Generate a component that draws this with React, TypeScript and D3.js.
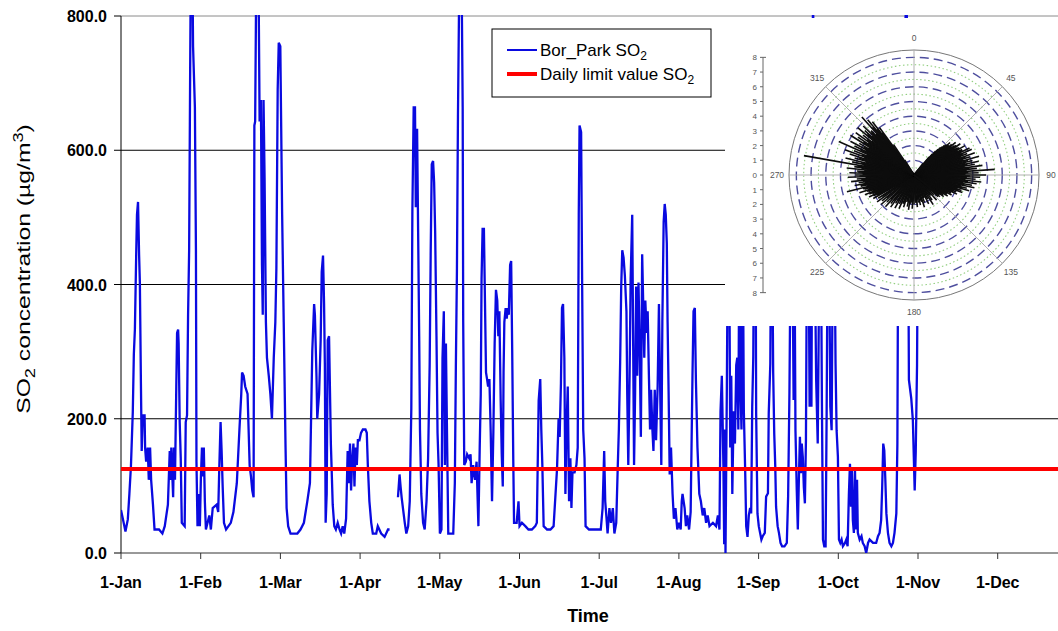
import { useRef, useEffect } from 'react';
import * as d3 from 'd3';

const WIDTH = 1058;
const HEIGHT = 631;
const FONT = '"Liberation Sans", Arial, sans-serif';

const monthLabels = ['1-Jan', '1-Feb', '1-Mar', '1-Apr', '1-May', '1-Jun', '1-Jul', '1-Aug', '1-Sep', '1-Oct', '1-Nov', '1-Dec'];
const yTicks = [0, 200, 400, 600, 800];
const dailyLimit = 125;

// [day of year (1-Jan = 0), SO2 µg/m3]; null = missing data (April gap)
const so2Readings: [number, number | null][] = [
  [0.0, 64], [1.3, 40], [1.7, 32], [2.6, 50], [3.2, 88], [3.8, 130], [4.5, 210], [4.9, 296], [5.3, 333], [5.8, 445],
  [6.1, 504], [6.5, 523], [6.9, 445], [7.2, 403], [7.6, 253], [7.9, 152], [8.3, 205], [9.0, 205], [9.2, 157], [9.6, 136],
  [10.2, 157], [10.6, 109], [11.1, 157], [11.5, 109], [12.2, 72], [12.8, 35], [14.5, 35], [15.8, 29], [16.7, 40], [17.3, 56],
  [17.9, 72], [18.6, 152], [19.0, 109], [19.2, 157], [19.9, 83], [20.2, 157], [20.6, 109], [21.1, 248], [21.4, 328], [21.8, 333],
  [22.0, 312], [22.4, 195], [22.8, 141], [23.2, 45], [24.3, 40], [24.7, 195], [25.2, 205], [25.6, 355], [26.0, 450], [26.4, 723],
  [26.6, 850], [27.3, 850], [27.5, 755], [28.2, 664], [28.6, 450], [28.8, 136], [29.2, 40], [29.6, 88], [30.1, 40], [30.5, 114],
  [30.9, 157], [31.3, 114], [31.6, 157], [32.0, 77], [32.4, 35], [33.7, 56], [34.3, 35], [35.0, 67], [36.5, 72], [37.1, 61],
  [37.5, 125], [38.0, 195], [38.4, 152], [38.8, 99], [39.3, 45], [40.1, 35], [41.9, 45], [42.9, 61], [44.2, 104], [45.2, 184],
  [45.9, 237], [46.2, 269], [46.8, 264], [47.4, 248], [48.3, 237], [48.7, 184], [49.1, 130], [49.6, 114], [50.1, 93], [50.6, 83],
  [50.9, 637], [51.2, 643], [51.6, 850], [52.5, 850], [52.9, 643], [53.4, 675], [53.8, 429], [54.1, 355], [54.4, 675], [54.8, 557],
  [55.3, 344], [55.7, 291], [56.4, 264], [57.0, 237], [57.6, 200], [58.3, 291], [58.9, 344], [59.3, 424], [59.8, 691], [60.2, 760],
  [60.8, 755], [61.5, 504], [62.1, 344], [62.8, 157], [63.2, 67], [63.8, 40], [64.7, 29], [67.3, 29], [68.5, 35], [69.8, 45],
  [71.1, 77], [72.1, 104], [73.0, 301], [73.7, 371], [74.0, 355], [74.6, 264], [74.9, 200], [75.6, 237], [76.2, 317], [76.6, 419],
  [77.1, 443], [77.5, 371], [77.8, 280], [78.1, 45], [78.5, 88], [78.9, 317], [79.4, 323], [80.1, 162], [80.8, 72], [81.4, 40],
  [82.0, 35], [82.7, 45], [83.4, 35], [84.0, 29], [84.6, 40], [85.2, 29], [85.9, 51], [86.5, 152], [86.9, 104], [87.4, 163],
  [87.8, 93], [88.2, 136], [88.7, 163], [89.1, 99], [89.5, 157], [90.0, 131], [90.4, 168], [91.0, 168], [91.6, 179], [92.3, 184],
  [93.3, 184], [93.8, 179], [94.2, 131], [94.8, 77], [95.5, 45], [96.1, 29], [97.4, 29], [98.0, 40], [99.3, 29], [100.6, 24],
  [101.9, 35], [102.5, 35], [104.0, null],
  [105.7, 83], [106.3, 117], [106.7, 99], [107.1, 83], [107.6, 67], [108.3, 45], [108.9, 29], [109.6, 40], [110.2, 77], [110.8, 216],
  [111.2, 509], [111.7, 664], [112.2, 664], [112.5, 515], [113.0, 632], [113.4, 477], [113.8, 323], [114.1, 184], [114.6, 88], [115.3, 45],
  [115.9, 35], [116.6, 77], [117.2, 141], [117.8, 280], [118.2, 451], [118.6, 579], [119.1, 584], [119.5, 552], [119.9, 477], [120.4, 323],
  [120.8, 179], [121.2, 131], [121.7, 29], [122.3, 35], [122.7, 291], [123.2, 360], [123.6, 131], [124.0, 312], [124.4, 184], [124.9, 29],
  [126.8, 29], [127.4, 104], [127.8, 280], [128.2, 419], [128.6, 653], [129.1, 850], [130.0, 850], [130.4, 664], [130.6, 344], [131.0, 131],
  [131.6, 136], [132.1, 147], [132.9, 141], [133.4, 147], [133.8, 104], [134.4, 131], [135.1, 109], [135.7, 136], [136.4, 40], [136.9, 157],
  [137.3, 237], [137.6, 408], [138.0, 483], [138.5, 483], [138.9, 376], [139.3, 269], [139.7, 259], [140.1, 248], [140.6, 259], [141.1, 179],
  [141.6, 77], [142.1, 179], [142.6, 312], [143.1, 392], [143.6, 376], [144.0, 323], [144.4, 360], [144.9, 227], [145.3, 147], [145.7, 99],
  [146.0, 269], [146.3, 344], [146.8, 365], [147.2, 349], [147.6, 365], [148.0, 355], [148.5, 429], [148.9, 435], [149.3, 301], [149.7, 141],
  [150.0, 45], [151.0, 45], [151.7, 77], [152.1, 40], [153.0, 45], [154.3, 40], [155.5, 35], [156.8, 35], [158.1, 40], [158.7, 45],
  [159.4, 227], [160.0, 259], [160.4, 184], [160.8, 131], [161.3, 40], [162.6, 35], [163.9, 35], [165.1, 40], [166.4, 125], [167.0, 200],
  [167.4, 173], [167.9, 253], [168.3, 365], [168.7, 371], [169.2, 291], [169.6, 88], [170.0, 184], [170.5, 248], [171.0, 77], [171.5, 141],
  [171.9, 67], [172.3, 120], [173.1, 120], [173.8, 131], [174.3, 157], [174.7, 504], [175.0, 637], [175.6, 627], [176.0, 397], [176.4, 184],
  [176.9, 141], [177.3, 40], [178.6, 35], [181.2, 35], [183.1, 35], [183.8, 67], [184.4, 152], [184.8, 77], [185.3, 51], [185.7, 29],
  [186.4, 67], [187.0, 45], [187.7, 67], [188.3, 29], [189.0, 45], [189.6, 131], [190.0, 184], [190.5, 285], [190.9, 397], [191.3, 451],
  [191.8, 440], [192.3, 413], [192.9, 360], [193.2, 237], [193.6, 131], [194.1, 264], [194.5, 408], [195.1, 504], [195.4, 344], [195.8, 131],
  [196.2, 237], [196.6, 397], [197.0, 264], [197.5, 403], [198.0, 291], [198.4, 173], [198.9, 445], [199.3, 371], [199.7, 291], [200.1, 376],
  [200.6, 328], [201.0, 360], [201.5, 259], [201.9, 184], [202.3, 243], [202.8, 184], [203.2, 152], [203.7, 243], [204.2, 168], [204.8, 248],
  [205.3, 371], [205.8, 237], [206.2, 131], [206.6, 344], [207.1, 493], [207.5, 520], [207.9, 504], [208.3, 461], [208.6, 344], [209.0, 237],
  [209.4, 117], [209.9, 157], [210.5, 88], [211.0, 51], [211.6, 67], [212.3, 35], [212.9, 45], [213.6, 35], [214.0, 77], [214.3, 88],
  [215.1, 67], [215.6, 40], [216.1, 56], [216.8, 35], [217.4, 61], [218.1, 264], [218.5, 360], [219.0, 365], [219.4, 259], [220.0, 157],
  [220.7, 88], [221.3, 77], [222.0, 56], [222.6, 67], [223.3, 45], [223.9, 56], [224.6, 40], [225.9, 45], [227.1, 40], [227.8, 56],
  [228.4, 35], [228.8, 211], [229.3, 264], [229.9, 131], [230.2, 13], [230.5, 184], [230.7, 0], [231.2, 237], [231.6, 480], [232.1, 480],
  [232.5, 157], [232.9, 264], [233.3, 88], [233.8, 211], [234.3, 163], [234.8, 280], [235.2, 291], [235.6, 184], [236.0, 480], [236.4, 248],
  [236.8, 184], [237.3, 480], [237.7, 211], [238.2, 125], [238.6, 40], [239.1, 24], [239.6, 56], [240.1, 67], [240.5, 59], [240.9, 218],
  [241.3, 292], [241.6, 480], [242.2, 480], [242.4, 208], [242.9, 59], [243.4, 40], [243.9, 30], [244.4, 20], [244.9, 25], [245.7, 30],
  [246.2, 84], [246.9, 89], [247.2, 208], [247.8, 282], [248.1, 480], [248.5, 480], [248.9, 268], [249.3, 178], [249.7, 128], [250.0, 69],
  [250.6, 40], [251.1, 30], [251.7, 15], [252.3, 10], [253.2, 10], [254.1, 15], [254.6, 84], [255.1, 238], [255.6, 480], [256.2, 480],
  [256.7, 228], [257.0, 480], [257.4, 183], [257.9, 93], [258.3, 35], [258.7, 109], [259.1, 173], [259.5, 119], [259.8, 163], [260.2, 143],
  [260.6, 98], [261.0, 74], [261.4, 168], [261.8, 480], [262.4, 480], [262.8, 218], [263.2, 480], [263.5, 218], [264.1, 850], [264.7, 480],
  [265.3, 258], [265.9, 163], [266.6, 480], [267.1, 480], [267.5, 223], [267.9, 20], [268.4, 10], [268.9, 10], [269.3, 208], [269.7, 480],
  [270.2, 480], [270.7, 218], [271.2, 183], [271.7, 480], [272.3, 480], [272.7, 282], [273.1, 183], [273.6, 143], [274.0, 20], [274.5, 15],
  [275.0, 20], [275.5, 10], [276.3, 15], [276.8, 20], [277.3, 10], [277.8, 89], [278.2, 133], [278.6, 69], [278.9, 128], [279.3, 49],
  [279.7, 30], [280.1, 128], [280.5, 35], [280.9, 109], [281.2, 30], [281.9, 20], [282.6, 25], [283.1, 15], [283.8, 10], [284.4, 0],
  [285.1, 15], [285.7, 20], [287.0, 15], [288.2, 15], [288.9, 25], [289.5, 30], [290.1, 49], [290.5, 98], [290.9, 163], [291.3, 153],
  [291.7, 109], [292.1, 59], [292.7, 30], [293.3, 15], [294.0, 10], [294.6, 15], [295.2, 30], [295.9, 59], [296.3, 163], [296.6, 480],
  [298.0, 600], [299.8, 850], [300.3, 600], [300.7, 258], [301.6, 230], [302.2, 198], [302.9, 93], [303.3, 150], [303.8, 280], [304.1, 480],
];

// inset: [wind direction (deg from N), wind speed (m/s)]
const windRecords: [number, number][] = [
  [132, 2.2], [135, 1.9], [138, 2.3], [141, 1.8], [144, 2.1], [147, 2.4], [150, 1.9], [153, 2.2], [156, 1.7], [159, 2.0],
  [162, 2.3], [165, 1.8], [168, 2.1], [171, 1.9], [174, 2.2], [177, 1.8], [180, 2.0], [183, 2.3], [186, 1.9], [189, 2.4],
  [192, 2.2], [195, 1.9], [198, 2.3], [201, 2.1], [204, 2.5], [207, 2.2], [210, 2.6], [213, 2.3], [216, 2.7], [219, 2.5],
  [222, 2.9], [225, 2.6], [228, 3.0], [231, 2.8], [234, 3.1], [237, 2.9],
  [134, 1.6], [140, 1.7], [146, 1.6], [152, 1.8], [158, 1.7], [164, 1.9], [170, 1.7], [176, 1.9], [182, 1.8], [188, 2.0],
  [194, 1.8], [200, 2.0], [206, 1.9], [212, 2.1], [218, 2.2], [224, 2.3], [230, 2.4], [236, 2.6],
  [240, 3.2], [242, 2.9], [244, 3.4], [246, 3.1], [248, 3.6], [250, 3.3], [252, 3.9], [254, 3.5], [256, 4.7], [258, 3.7],
  [260, 4.1], [262, 3.8], [264, 4.3], [266, 3.9], [268, 4.5], [270, 4.0], [272, 4.4], [274, 3.9], [276, 4.6], [278, 4.1],
  [280, 7.6], [282, 4.3], [284, 4.8], [286, 4.2], [288, 4.6], [290, 5.0], [292, 4.4], [294, 5.6], [296, 4.5], [298, 4.9],
  [300, 4.3], [302, 5.1], [304, 4.6], [306, 4.9], [308, 4.4], [310, 5.0], [312, 4.5], [314, 4.8], [316, 4.2], [318, 5.3],
  [320, 4.9], [322, 4.6], [324, 4.0], [326, 2.5], [328, 1.2],
  [241, 2.8], [243, 3.1], [245, 2.9], [247, 3.3], [249, 3.0], [251, 3.4], [253, 3.2], [255, 3.6], [257, 3.3], [259, 3.7],
  [261, 3.4], [263, 3.5], [265, 3.6], [267, 3.3], [269, 3.7], [271, 3.5], [273, 3.8], [275, 3.4], [277, 3.6], [279, 3.9],
  [281, 3.5], [283, 3.7], [285, 3.4], [287, 3.9], [289, 3.6], [291, 3.8], [293, 3.5], [295, 4.0], [297, 3.7], [299, 3.9],
  [301, 3.6], [303, 4.1], [305, 3.8], [307, 4.0], [309, 3.7], [311, 4.2], [313, 3.9], [315, 4.1], [317, 3.8], [319, 4.3],
  [321, 4.0], [323, 3.6],
  [38, 1.0], [40, 1.6], [42, 2.2], [44, 2.6], [46, 2.9], [48, 3.3], [50, 3.1], [52, 3.6], [54, 3.4], [56, 3.8],
  [58, 3.5], [60, 4.0], [62, 3.7], [64, 4.2], [66, 4.3], [68, 3.9], [70, 4.4], [72, 4.0], [74, 4.6], [76, 4.1],
  [78, 4.5], [80, 4.2], [82, 4.7], [84, 4.3], [86, 5.5], [88, 4.4], [90, 4.9], [92, 4.5], [94, 4.2], [96, 4.6],
  [98, 4.3], [100, 4.0], [102, 4.2], [104, 3.7], [106, 3.9], [108, 3.4], [110, 3.5], [112, 3.1], [114, 3.2], [116, 2.8],
  [118, 2.9], [120, 2.6], [122, 2.7], [124, 2.4], [126, 2.5], [128, 2.2], [130, 2.3],
  [41, 1.9], [43, 2.4], [45, 2.7], [47, 3.0], [49, 3.1], [51, 3.3], [53, 3.2], [55, 3.5], [57, 3.3], [59, 3.6],
  [61, 3.4], [63, 3.7], [65, 3.5], [67, 3.6], [69, 3.4], [71, 3.7], [73, 3.5], [75, 3.8], [77, 3.6], [79, 3.7],
  [81, 3.5], [83, 3.8], [85, 3.6], [87, 3.7], [89, 3.5], [91, 3.8], [93, 3.6], [95, 3.5], [97, 3.7], [99, 3.4],
  [101, 3.5], [103, 3.3], [105, 3.4], [107, 3.1], [109, 3.2], [111, 2.9], [113, 2.9], [115, 2.7], [117, 2.6], [119, 2.5],
  [121, 2.4], [123, 2.3], [125, 2.2], [127, 2.1], [129, 2.0],
];

const polarRings = [1, 2, 3, 4, 5, 6, 7, 8];
const polarHalfRings = [0.5, 1.5, 2.5, 3.5, 4.5, 5.5, 6.5, 7.5];
const polarAngles = [0, 45, 90, 135, 180, 225, 270, 315];
const polarAxisTicks = [-8, -7, -6, -5, -4, -3, -2, -1, 0, 1, 2, 3, 4, 5, 6, 7, 8];

export default function App() {
  const svgRef = useRef<SVGSVGElement>(null);

  useEffect(() => {
    if (!svgRef.current) return;
    const svg = d3.select(svgRef.current);
    svg.selectAll('*').remove();

    const left = 121;
    const top = 16;
    const bottom = 553;
    const monthW = 79.7;

    const x = d3.scaleLinear().domain([0, 365]).range([left, left + 12 * monthW]);
    const y = d3.scaleLinear().domain([0, 800]).range([bottom, top]);

    svg.append('rect').attr('width', WIDTH).attr('height', HEIGHT).attr('fill', '#fff');

    // gridlines
    svg.append('g')
      .selectAll('line')
      .data(yTicks.filter((d) => d > 0))
      .join('line')
      .attr('x1', left)
      .attr('x2', WIDTH)
      .attr('y1', (d) => y(d))
      .attr('y2', (d) => y(d))
      .attr('stroke', (d) => (d === 800 ? '#8a8a8a' : '#000'))
      .attr('stroke-width', 1);

    // y axis
    svg.append('line').attr('x1', left).attr('x2', left).attr('y1', top).attr('y2', bottom).attr('stroke', '#000');
    const yg = svg.append('g');
    yg.selectAll('line')
      .data(yTicks)
      .join('line')
      .attr('x1', left - 7)
      .attr('x2', left)
      .attr('y1', (d) => y(d))
      .attr('y2', (d) => y(d))
      .attr('stroke', '#000');
    yg.selectAll('text')
      .data(yTicks)
      .join('text')
      .attr('x', left - 14)
      .attr('y', (d) => y(d) + 6)
      .attr('text-anchor', 'end')
      .attr('font-family', FONT)
      .attr('font-size', 16)
      .attr('font-weight', 'bold')
      .text((d) => d.toFixed(1));

    // x axis
    const monthTicks = monthLabels.map((_, i) => (i * 365) / 12);
    svg.append('line').attr('x1', left).attr('x2', WIDTH).attr('y1', bottom).attr('y2', bottom).attr('stroke', '#333');
    const xg = svg.append('g');
    xg.selectAll('line')
      .data(monthTicks)
      .join('line')
      .attr('x1', (d) => x(d))
      .attr('x2', (d) => x(d))
      .attr('y1', bottom)
      .attr('y2', bottom + 6)
      .attr('stroke', '#333');
    xg.selectAll('text')
      .data(monthLabels)
      .join('text')
      .attr('x', (_, i) => x(monthTicks[i]))
      .attr('y', 588)
      .attr('text-anchor', 'middle')
      .attr('font-family', FONT)
      .attr('font-size', 16)
      .attr('font-weight', 'bold')
      .text((d) => d);

    svg.append('text')
      .attr('x', 588)
      .attr('y', 622)
      .attr('text-anchor', 'middle')
      .attr('font-family', FONT)
      .attr('font-size', 18)
      .attr('font-weight', 'bold')
      .text('Time');

    const yTitle = svg.append('text')
      .attr('transform', 'translate(30,269) rotate(-90) scale(1.3,1)')
      .attr('text-anchor', 'middle')
      .attr('font-family', FONT)
      .attr('font-size', 19);
    yTitle.append('tspan').text('SO');
    yTitle.append('tspan').attr('dy', 5).attr('font-size', 14).text('2');
    yTitle.append('tspan').attr('dy', -5).text(' concentration (µg/m');
    yTitle.append('tspan').attr('dy', -7).attr('font-size', 14).text('3');
    yTitle.append('tspan').attr('dy', 7).text(')');

    // series
    svg.append('clipPath').attr('id', 'plot-clip')
      .append('rect').attr('x', left).attr('y', top - 1).attr('width', WIDTH - left).attr('height', bottom - top + 1);

    const line = d3.line<[number, number | null]>()
      .defined((d) => d[1] !== null)
      .x((d) => x(d[0]))
      .y((d) => y(d[1] as number));

    svg.append('path')
      .datum(so2Readings)
      .attr('clip-path', 'url(#plot-clip)')
      .attr('d', line)
      .attr('fill', 'none')
      .attr('stroke', '#0a0ae0')
      .attr('stroke-width', 2.3)
      .attr('stroke-linejoin', 'miter');

    svg.append('line')
      .attr('x1', left)
      .attr('x2', WIDTH)
      .attr('y1', y(dailyLimit))
      .attr('y2', y(dailyLimit))
      .attr('stroke', '#ff0000')
      .attr('stroke-width', 4);

    // legend
    const lg = svg.append('g');
    lg.append('rect').attr('x', 492).attr('y', 29).attr('width', 219).attr('height', 68)
      .attr('fill', '#fff').attr('stroke', '#000').attr('stroke-width', 1);
    const legendItems = [
      { label: 'Bor_Park SO', color: '#0a0ae0', width: 2, y: 50 },
      { label: 'Daily limit value SO', color: '#ff0000', width: 4, y: 74 },
    ];
    legendItems.forEach((item) => {
      lg.append('line').attr('x1', 507).attr('x2', 537).attr('y1', item.y).attr('y2', item.y)
        .attr('stroke', item.color).attr('stroke-width', item.width);
      const t = lg.append('text').attr('x', 540).attr('y', item.y + 6)
        .attr('font-family', FONT).attr('font-size', 17);
      t.append('tspan').text(item.label);
      t.append('tspan').attr('dy', 4).attr('font-size', 12).text('2');
    });

    // inset wind plot (covers the upper right of the chart)
    const inset = svg.append('g');
    inset.append('rect').attr('x', 725).attr('y', 18).attr('width', WIDTH - 725).attr('height', 308).attr('fill', '#fff');

    const cx = 914;
    const cy = 175;
    const r = d3.scaleLinear().domain([0, 8.5]).range([0, 125]);

    inset.selectAll('circle.half')
      .data(polarHalfRings)
      .join('circle')
      .attr('class', 'half')
      .attr('cx', cx).attr('cy', cy).attr('r', (d) => r(d))
      .attr('fill', 'none').attr('stroke', '#93cf80').attr('stroke-width', 1.1).attr('stroke-dasharray', '1.5 2.5');
    inset.selectAll('circle.ring')
      .data(polarRings)
      .join('circle')
      .attr('class', 'ring')
      .attr('cx', cx).attr('cy', cy).attr('r', (d) => r(d))
      .attr('fill', 'none').attr('stroke', '#4e4e9e').attr('stroke-width', 1.4).attr('stroke-dasharray', '9 5');
    inset.append('circle').attr('cx', cx).attr('cy', cy).attr('r', r(8.5))
      .attr('fill', 'none').attr('stroke', '#777').attr('stroke-width', 1);

    const rad = (a: number) => (a * Math.PI) / 180;
    inset.selectAll('line.spokegrid')
      .data(polarAngles)
      .join('line')
      .attr('class', 'spokegrid')
      .attr('x1', cx).attr('y1', cy)
      .attr('x2', (d) => cx + r(8.5) * Math.sin(rad(d)))
      .attr('y2', (d) => cy - r(8.5) * Math.cos(rad(d)))
      .attr('stroke', '#a8a8a8').attr('stroke-width', 0.9);

    inset.selectAll('line.wind')
      .data(windRecords)
      .join('line')
      .attr('class', 'wind')
      .attr('x1', cx).attr('y1', cy)
      .attr('x2', (d) => cx + r(d[1]) * Math.sin(rad(d[0])))
      .attr('y2', (d) => cy - r(d[1]) * Math.cos(rad(d[0])))
      .attr('stroke', '#0d0d0d').attr('stroke-width', 1.6);

    inset.selectAll('text.ang')
      .data(polarAngles)
      .join('text')
      .attr('class', 'ang')
      .attr('x', (d) => cx + 137 * Math.sin(rad(d)))
      .attr('y', (d) => cy - 137 * Math.cos(rad(d)) + 3)
      .attr('text-anchor', 'middle')
      .attr('font-family', FONT).attr('font-size', 8.5).attr('fill', '#555')
      .text((d) => d);

    // left radial axis
    const axX = 763;
    const ay = (v: number) => cy - r(v);
    inset.append('path')
      .attr('d', `M${axX + 3},${ay(8)}H${axX}V${ay(-8)}H${axX + 3}`)
      .attr('fill', 'none').attr('stroke', '#666').attr('stroke-width', 1);
    inset.selectAll('line.axt')
      .data(polarAxisTicks)
      .join('line')
      .attr('class', 'axt')
      .attr('x1', axX - 3).attr('x2', axX)
      .attr('y1', (d) => ay(d)).attr('y2', (d) => ay(d))
      .attr('stroke', '#666');
    inset.selectAll('text.axl')
      .data(polarAxisTicks)
      .join('text')
      .attr('class', 'axl')
      .attr('x', axX - 6).attr('y', (d) => ay(d) + 3)
      .attr('text-anchor', 'end')
      .attr('font-family', FONT).attr('font-size', 8).attr('fill', '#555')
      .text((d) => Math.abs(d));
  }, []);

  return (
    <svg
      ref={svgRef}
      width={WIDTH}
      height={HEIGHT}
      style={{ position: 'absolute', left: 0, top: 0, display: 'block' }}
    />
  );
}
